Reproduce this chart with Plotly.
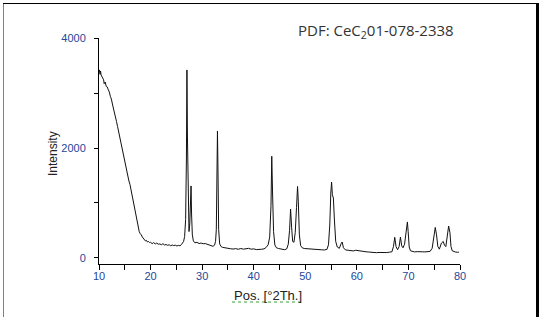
import plotly.graph_objects as go

# 2-theta positions and intensities
two_theta = [
    10.0, 10.1, 10.2, 10.3, 10.4, 10.5, 10.7, 10.9, 11.0, 11.2, 11.4, 11.6, 11.8, 12.0,
    12.2, 12.4, 12.6, 12.8, 13.0, 13.2, 13.4, 13.6, 13.8, 14.0, 14.2, 14.4, 14.6, 14.8,
    15.0, 15.2, 15.4, 15.6, 15.8, 16.0, 16.2, 16.4, 16.6, 16.8, 17.0, 17.2, 17.4, 17.6,
    17.8, 18.0, 18.2, 18.4, 18.6, 18.8, 19.0, 19.2, 19.4, 19.6, 19.8, 20.0, 20.3, 20.6,
    20.9, 21.2, 21.5, 21.8, 22.1, 22.4, 22.7, 23.0, 23.3, 23.6, 23.9, 24.2, 24.5, 24.8,
    25.1, 25.4, 25.7, 26.0, 26.2, 26.4, 26.6, 26.8, 26.95, 27.05, 27.15, 27.3, 27.45,
    27.6, 27.75, 27.85, 27.95, 28.1, 28.3, 28.6, 29.0, 29.4, 29.8, 30.2, 30.6, 31.0,
    31.4, 31.8, 32.1, 32.4, 32.6, 32.75, 32.87, 32.97, 33.07, 33.2, 33.4, 33.7, 34.0,
    34.5, 35.0, 35.5, 36.0, 36.5, 37.0, 37.5, 38.0, 38.5, 39.0, 39.5, 40.0, 40.5, 41.0,
    41.5, 42.0, 42.4, 42.8, 43.1, 43.35, 43.5, 43.65, 43.85, 44.1, 44.4, 44.8, 45.2,
    45.6, 46.0, 46.4, 46.7, 46.95, 47.15, 47.35, 47.55, 47.8, 48.05, 48.3, 48.5, 48.65,
    48.85, 49.1, 49.4, 49.8, 50.2, 50.7, 51.2, 51.7, 52.2, 52.7, 53.2, 53.7, 54.2, 54.5,
    54.75, 54.95, 55.1, 55.25, 55.45, 55.65, 55.9, 56.2, 56.6, 56.95, 57.15, 57.4,
    57.8, 58.3, 58.8, 59.3, 59.8, 60.3, 60.8, 61.3, 61.8, 62.3, 62.8, 63.3, 63.8, 64.3,
    64.8, 65.3, 65.8, 66.3, 66.8, 67.1, 67.35, 67.6, 67.9, 68.2, 68.45, 68.7, 68.95,
    69.25, 69.55, 69.8, 69.95, 70.15, 70.4, 70.8, 71.2, 71.7, 72.2, 72.7, 73.2, 73.7,
    74.2, 74.6, 74.9, 75.2, 75.45, 75.7, 76.0, 76.4, 76.75, 77.0, 77.25, 77.5, 77.8,
    78.05, 78.25, 78.5, 78.8, 79.1, 79.5, 79.8, 80.0,
]
intensity = [
    3380, 3420, 3340, 3400, 3330, 3310, 3290, 3240, 3170, 3200, 3120, 3110, 3060, 3020,
    2940, 2890, 2800, 2730, 2620, 2570, 2480, 2390, 2300, 2210, 2120, 2030, 1900, 1830,
    1740, 1660, 1580, 1490, 1400, 1340, 1240, 1160, 1050, 950, 840, 730, 640, 550,
    480, 440, 420, 380, 350, 330, 310, 320, 290, 300, 280, 285, 260, 280,
    255, 270, 250, 255, 240, 260, 235, 245, 230, 240, 222, 235, 225, 232,
    218, 228, 222, 245, 270, 300, 390, 700, 1800, 3420, 2200, 820, 480,
    620, 1290, 1310, 800, 420, 310, 275, 285, 262, 272, 258, 262, 250,
    238, 225, 212, 232, 300, 520, 1250, 2310, 1600, 520, 255, 205, 192,
    180, 172, 168, 162, 170, 158, 172, 160, 168, 175, 160, 165, 152, 150,
    158, 165, 190, 240, 380, 950, 1850, 1200, 480, 235, 185, 172, 165,
    158, 150, 165, 250, 500, 890, 560, 300, 285, 460, 920, 1300, 1020,
    420, 225, 185, 172, 168, 160, 155, 158, 150, 146, 148, 145, 155, 240,
    600, 1180, 1380, 1150, 1090, 690, 300, 200, 175, 260, 290, 185,
    145, 140, 135, 128, 140, 130, 122, 118, 112, 108, 102, 100, 96, 100,
    95, 102, 98, 105, 112, 210, 375, 205, 150, 210, 378, 220, 185,
    250, 470, 655, 480, 200, 130, 118, 110, 115, 108, 112, 110, 115,
    120, 175, 340, 555, 420, 210, 160, 270, 300, 230, 205, 390,
    580, 460, 210, 130, 112, 108, 104, 105,
]

x_ticks = [10, 20, 30, 40, 50, 60, 70, 80]
y_ticks = [0, 2000, 4000]

tick_color = "#24479a"
font_family = "Liberation Sans, Arial, sans-serif"

fig = go.Figure()
fig.add_trace(go.Scatter(
    x=two_theta, y=intensity, mode="lines",
    line=dict(color="#111111", width=1),
    showlegend=False, hoverinfo="skip",
))

fig.update_layout(
    width=547, height=327,
    margin=dict(l=99, r=87, t=38, b=63),
    paper_bgcolor="white", plot_bgcolor="white",
    font=dict(family=font_family, size=11, color="#222222"),
    xaxis=dict(
        range=[10, 80], tickvals=x_ticks, ticktext=[str(v) for v in x_ticks],
        showgrid=False, zeroline=False, showline=True, linecolor="black", linewidth=1,
        ticks="outside", ticklen=5, tickcolor="black", tickwidth=1,
        tickfont=dict(size=11, color=tick_color, family=font_family),
        ticklabelstandoff=-3,
        minor=dict(dtick=5, tick0=10, ticks="outside", ticklen=5, tickcolor="black", showgrid=False),
    ),
    yaxis=dict(
        range=[-110, 4001], tickvals=y_ticks, ticktext=[str(v) for v in y_ticks],
        showgrid=False, zeroline=False, showline=True, linecolor="black", linewidth=1,
        ticks="outside", ticklen=4, tickcolor="black", tickwidth=1,
        tickfont=dict(size=11, color=tick_color, family=font_family),
        ticklabelstandoff=6,
        minor=dict(dtick=1000, tick0=0, ticks="outside", ticklen=4, tickcolor="black", showgrid=False),
    ),
)

def px(xp):
    return (xp - 99) / 361
def py(yp):
    return (264 - yp) / 226

fig.add_annotation(
    xref="paper", yref="paper", x=px(53), y=py(154),
    text="Intensity", textangle=-90, showarrow=False,
    font=dict(size=12, color="#222222", family=font_family),
    xanchor="center", yanchor="middle",
)
fig.add_annotation(
    xref="paper", yref="paper", x=px(268), y=py(295),
    text="Pos. [°2Th.]", showarrow=False,
    font=dict(size=13, color="#222222", family=font_family),
    xanchor="center", yanchor="middle",
)
fig.add_annotation(
    xref="paper", yref="paper", x=px(296), y=py(31),
    text="PDF: CeC<sub>2</sub>01-078-2338", showarrow=False,
    font=dict(size=15, color="#333333", family="Open Sans, sans-serif"),
    xanchor="left", yanchor="middle",
)

# frame around the figure
fig.add_shape(type="line", xref="paper", yref="paper", x0=px(3.5), x1=px(3.5), y0=py(3), y1=py(317),
              line=dict(color="#808080", width=1))
fig.add_shape(type="line", xref="paper", yref="paper", x0=px(3), x1=px(538), y0=py(3.5), y1=py(3.5),
              line=dict(color="black", width=1))
fig.add_shape(type="line", xref="paper", yref="paper", x0=px(537.5), x1=px(537.5), y0=py(3), y1=py(317),
              line=dict(color="black", width=3))
# spell-check style wavy underline under the x title
fig.add_shape(type="line", xref="paper", yref="paper", x0=px(232), x1=px(304), y0=py(302), y1=py(302),
              line=dict(color="#3aa03a", width=1, dash="dot"))

fig.write_html(
    "out.html",
    config={"displayModeBar": False},
    post_script="document.body.style.margin='0';document.body.style.overflow='hidden';",
)
